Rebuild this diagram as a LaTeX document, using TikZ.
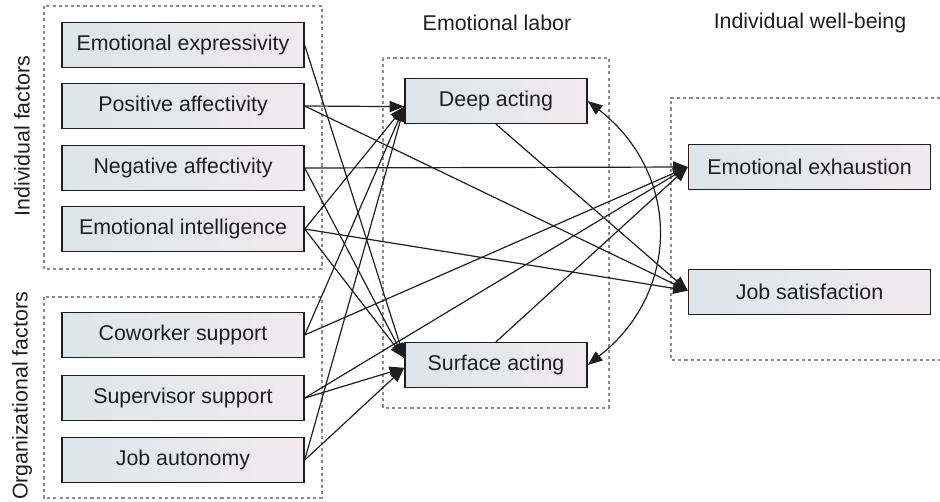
\documentclass[tikz,border=0pt]{standalone}
\usepackage{fontspec}
\setmainfont{Liberation Sans}
\usetikzlibrary{arrows.meta}
\definecolor{boxleft}{HTML}{DCE6EA}
\definecolor{boxright}{HTML}{F1EAEE}
\definecolor{ink}{HTML}{1E1E1E}
\tikzset{
  factor/.style={draw=ink, line width=0.95pt, left color=boxleft, right color=boxright,
    text=ink, inner sep=0pt, minimum width=6.05cm, minimum height=1.125cm, font=\fontsize{15.2}{18}\selectfont},
  labor/.style={factor, minimum width=4.55cm},
  group/.style={draw=black!45, line width=0.8pt, dash pattern=on 2.2pt off 2.2pt},
  arr/.style={draw=ink, line width=0.85pt, -{Triangle[length=10.5pt,width=8pt]}},
  title/.style={text=ink, font=\fontsize{15.2}{18}\selectfont}
}
\begin{document}
\begin{tikzpicture}[x=0.025cm, y=-0.025cm]
  \useasboundingbox (0,0) rectangle (940,501);

  % Groups
  \draw[group] (44,6) rectangle (322,269);
  \draw[group] (44,297) rectangle (322,498);
  \draw[group] (383,58) rectangle (609,408);
  \draw[group] (940,98) -| (671,360) -- (940,360);

  % Group labels
  \node[title, rotate=90] (indlabel) at (22,136) {Individual factors};
  \node[title, rotate=90] (orglabel) at (22,396) {Organizational factors};
  \node[title] (labortitle) at (497,23) {Emotional labor};
  \node[title] (welltitle) at (810,23) {Individual well-being};

  % Individual factors
  \node[factor] (ex) at (183,45) {Emotional expressivity};
  \node[factor] (pa) at (183,106) {Positive affectivity};
  \node[factor] (na) at (183,168) {Negative affectivity};
  \node[factor] (ei) at (183,229) {Emotional intelligence};

  % Organizational factors
  \node[factor] (cs) at (183,335) {Coworker support};
  \node[factor] (ss) at (183,398) {Supervisor support};
  \node[factor] (ja) at (183,460) {Job autonomy};

  % Emotional labor
  \node[labor] (da) at (496,101) {Deep acting};
  \node[labor] (sa) at (496,365) {Surface acting};

  % Individual well-being
  \node[factor] (ee) at (809.5,167) {Emotional exhaustion};
  \node[factor] (js) at (809.5,292) {Job satisfaction};

  % Arrow targets
  \coordinate (da-in) at ([yshift=-4pt]da.west);
  \coordinate (sa-top) at ([yshift=5pt]sa.west);
  \coordinate (sa-low) at ([yshift=-2pt]sa.west);
  \coordinate (js-in) at ([yshift=1pt]js.west);

  % Paths to deep acting
  \draw[arr] (pa.east) -- (da-in);
  \draw[arr] (ei.east) -- (da-in);
  \draw[arr] (cs.east) -- (da-in);
  \draw[arr] (ja.east) -- (da-in);

  % Paths to surface acting
  \draw[arr] (ex.east) -- (sa-top);
  \draw[arr] (na.east) -- (sa-top);
  \draw[arr] (ei.east) -- (sa-top);
  \draw[arr] (ss.east) -- (sa-low);
  \draw[arr] (ja.east) -- (sa-low);

  % Paths to emotional exhaustion
  \draw[arr] (na.east) -- (ee.west);
  \draw[arr] (cs.east) -- (ee.west);
  \draw[arr] (ss.east) -- (ee.west);
  \draw[arr] (sa.north) -- (ee.west);

  % Paths to job satisfaction
  \draw[arr] (pa.east) -- (js-in);
  \draw[arr] (ei.east) -- (js-in);
  \draw[arr] (da.south) -- (js-in);

  % Deep acting <-> surface acting
  \draw[draw=ink, line width=0.85pt, {Triangle[length=10.5pt,width=8pt]}-{Triangle[length=10.5pt,width=8pt]}]
    (da.east) to[out=-38, in=38, looseness=1.15] (sa.east);
\end{tikzpicture}
\end{document}
